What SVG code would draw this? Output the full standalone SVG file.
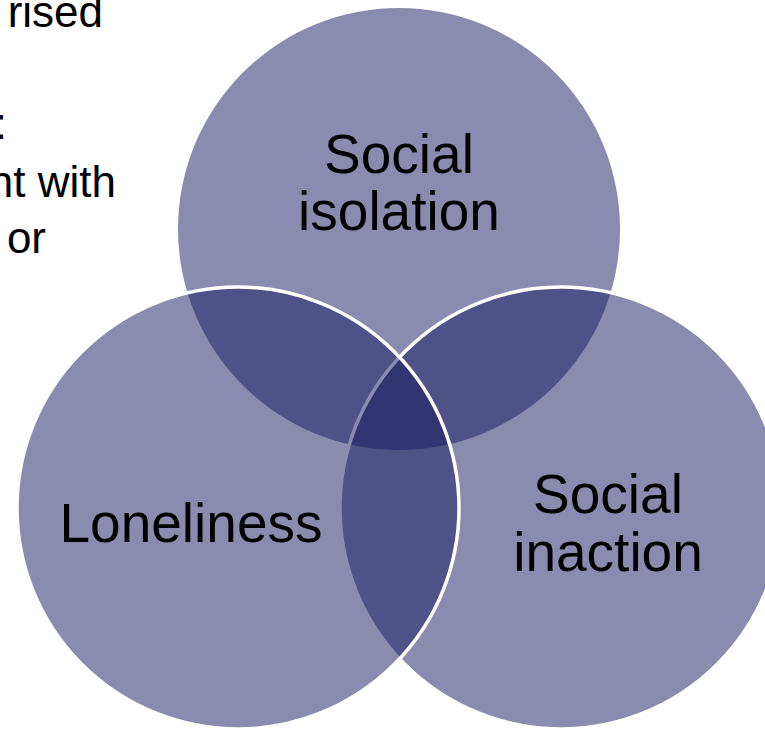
<svg xmlns="http://www.w3.org/2000/svg" width="765" height="729" viewBox="0 0 765 729">
  <style>
    .bg { fill: #ffffff; }
    .circle { fill: #15175d; fill-opacity: 0.5; }
    .stroked { stroke: #ffffff; stroke-width: 3.5; }
    .label { font-family: "Liberation Sans", Arial, sans-serif; font-size: 55px; fill: #000000; text-anchor: middle; }
    .side { font-family: "Liberation Sans", Arial, sans-serif; font-size: 44px; fill: #000000; text-anchor: end; }
  </style>
  <rect class="bg" x="0" y="0" width="765" height="729"/>
  <g id="side-text">
    <text class="side" x="103" y="27">rised</text>
    <text class="side" x="7" y="139">:</text>
    <text class="side" x="116" y="197">nt with</text>
    <text class="side" x="46" y="253">or</text>
  </g>
  <g id="social-isolation">
    <circle class="circle" cx="399" cy="229" r="221"/>
    <text class="label" x="399" y="173">Social</text>
    <text class="label" x="399" y="230">isolation</text>
  </g>
  <g id="social-inaction">
    <circle class="circle stroked" cx="561" cy="508" r="221"/>
    <text class="label" x="608" y="513">Social</text>
    <text class="label" x="608" y="571">inaction</text>
  </g>
  <g id="loneliness">
    <circle class="circle stroked" cx="238" cy="508" r="221"/>
    <text class="label" x="191" y="542">Loneliness</text>
  </g>
  <g id="connectors"/>
</svg>
